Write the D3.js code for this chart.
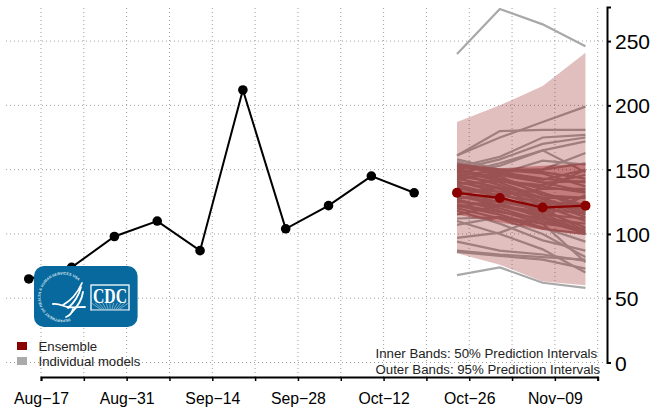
<!DOCTYPE html>
<html><head><meta charset="utf-8">
<script src="https://cdn.jsdelivr.net/npm/d3@7"></script>
<style>
html,body{margin:0;padding:0;background:#fff}
svg{display:block}
text{font-family:"Liberation Sans",Arial,sans-serif}
</style></head><body>
<svg id="c" width="663" height="414"></svg>
<script>
const tickDates = ["2020-08-17","2020-08-24","2020-08-31","2020-09-07","2020-09-14","2020-09-21","2020-09-28","2020-10-05","2020-10-12","2020-10-19","2020-10-26","2020-11-02","2020-11-09","2020-11-16"];
const tickLabels = ["Aug\u221217","","Aug\u221231","","Sep\u221214","","Sep\u221228","","Oct\u221212","","Oct\u221226","","Nov\u221209",""];
const yTicks = [0,50,100,150,200,250];
const obsDates = ["2020-08-15","2020-08-22","2020-08-29","2020-09-05","2020-09-12","2020-09-19","2020-09-26","2020-10-03","2020-10-10","2020-10-17"];
const obsValues = [65,74,98,110,87,212,104,122,145,132];
const fcDates = ["2020-10-24","2020-10-31","2020-11-07","2020-11-14"];
const ensemble = [132,128,120.5,122];
const outerHi = [187,200,215,241];
const outerLo = [85,76,63,60];
const innerHi = [155,151,153,155];
const innerLo = [115,109,103,99];
const models = [
 [240,275,263,246],[68,74,62,58],
 [161,175,187,199],[161,180,181,181],[152,160,175,177],[150,158,170,175],
 [148,153,165,172],[147,155,165,148],[155,147,157,154],[145,150,150,163],
 [158,150,148,143],[156,148,150,155],[152,150,147,137],[150,143,135,150],
 [148,145,130,128],[145,140,128,117],[142,148,140,141],[140,135,122,110],
 [138,130,125,123],[135,133,128,128],[132,127,118,105],[130,122,114,100],
 [128,130,135,135],[126,120,110,101],[122,115,105,94],[120,112,100,82],
 [118,108,95,87],[115,122,115,112],[112,113,104,100],[110,100,88,70],
 [107,113,108,78],[97,101,113,130],[94,87,84,79],[87,84,82,80],[86,83,80,73],
 [154,146,140,133],[153,148,143,140],[151,142,132,119],[149,141,138,146],
 [147,138,127,115],[144,146,142,150],[143,136,125,113],[141,132,120,102],
 [139,141,137,132],[136,129,116,101],[134,124,112,100],[131,136,132,122],
 [129,125,119,116],[127,118,108,104],[125,122,117,130],[123,117,112,108],
 [121,126,122,120]
];
const axisCol = "#000";
const parse = d3.utcParse("%Y-%m-%d");
const svg = d3.select("#c");
const x = d3.scaleUtc().domain([parse(tickDates[0]),parse(tickDates[13])]).range([41,597.7]);
const y = d3.scaleLinear().domain([0,276.5]).range([362.5,7]);

// grid
const grid = svg.append("g").attr("stroke","#a0a0a0").attr("stroke-width",1).attr("stroke-dasharray","1 3");
grid.selectAll("line.v").data(tickDates).join("line").attr("class","v")
  .attr("x1",d=>x(parse(d))).attr("x2",d=>x(parse(d))).attr("y1",8).attr("y2",377);
grid.selectAll("line.h").data(yTicks).join("line").attr("class","h")
  .attr("x1",6).attr("x2",605).attr("y1",d=>y(d)).attr("y2",d=>y(d));

const fx = fcDates.map(parse);
const line = d3.line().x((d,i)=>x(fx[i])).y(d=>y(d));
// individual models
svg.append("g").selectAll("path").data(models).join("path")
  .attr("d",line).attr("fill","none").attr("stroke","#a8a8a8").attr("stroke-width",2.2);
// bands
const band=(hi,lo,op)=>svg.append("path")
  .attr("d",d3.area().x((d,i)=>x(fx[i])).y0((d,i)=>y(lo[i])).y1(d=>y(d))(hi))
  .attr("fill","#8b0000").attr("fill-opacity",op);
band(outerHi,outerLo,0.25);
band(innerHi,innerLo,0.35);
// ensemble
svg.append("path").attr("d",line(ensemble)).attr("fill","none").attr("stroke","#8b0000").attr("stroke-width",2.2);
svg.append("g").selectAll("circle").data(ensemble).join("circle")
  .attr("cx",(d,i)=>x(fx[i])).attr("cy",d=>y(d)).attr("r",5).attr("fill","#8b0000");
// observed
const ox = obsDates.map(parse);
svg.append("path").attr("d",d3.line().x((d,i)=>x(ox[i])).y(d=>y(d))(obsValues))
  .attr("fill","none").attr("stroke","#000").attr("stroke-width",2);
svg.append("g").selectAll("circle").data(obsValues).join("circle")
  .attr("cx",(d,i)=>x(ox[i])).attr("cy",d=>y(d)).attr("r",4.8).attr("fill","#000");

// axes
const gx = svg.append("g").attr("transform","translate(0,377)")
  .call(d3.axisBottom(x).tickValues(tickDates.map(parse)).tickSize(4).tickPadding(0)
    .tickFormat((d,i)=>tickLabels[i]));
gx.select(".domain").attr("stroke",axisCol).attr("stroke-width",2);
gx.selectAll(".tick line").attr("stroke",axisCol).attr("stroke-width",1.5);
gx.selectAll(".tick text").attr("y",27).attr("dy",0).attr("font-size",15.8).attr("fill","#000")
  .style("font-family",'"Liberation Sans"');
const gy = svg.append("g").attr("transform","translate(607,0)")
  .call(d3.axisRight(y).tickValues(yTicks).tickSize(4).tickPadding(4));
gy.select(".domain").attr("stroke",axisCol).attr("stroke-width",2);
gy.selectAll(".tick line").attr("stroke",axisCol).attr("stroke-width",2);
gy.selectAll(".tick text").attr("x",8).attr("dy","0.36em").attr("font-size",21).attr("fill","#000")
  .style("font-family",'"Liberation Sans"');

// legend
const legCats = ["Ensemble","Individual models"];
const legCols = ["#8b0000","#aaaaaa"];
const leg = svg.append("g");
leg.selectAll("rect").data(legCats).join("rect").attr("x",17).attr("y",(d,i)=>342+i*15).attr("width",10).attr("height",8).attr("fill",(d,i)=>legCols[i]);
leg.selectAll("text").data(legCats).join("text").attr("x",38.5).attr("y",(d,i)=>351+i*15).attr("font-size",13.2).attr("fill","#222").text(d=>d);
const notes = ["Inner Bands: 50% Prediction Intervals","Outer Bands: 95% Prediction Intervals"];
svg.append("g").selectAll("text").data(notes).join("text").attr("x",375.5).attr("y",(d,i)=>358+i*16).attr("font-size",13.25).attr("fill","#222").text(d=>d);

// CDC logo
const logo = svg.append("g");
logo.append("rect").attr("x",34).attr("y",266).attr("width",103.6).attr("height",61).attr("rx",10).attr("fill","#07699d");
logo.append("path").attr("id","ring2").attr("fill","none").attr("d","M 70 318.5 A 22.5 22.5 0 1 1 82 285");
logo.append("text").attr("font-size",3.7).attr("font-weight","bold").attr("fill","#d7e6f0")
  .append("textPath").attr("href","#ring2").text("DEPARTMENT OF HEALTH & HUMAN SERVICES USA");
const eagle = [
 "M 82 283 C 78 292 72 300 63 305",
 "M 81 287 C 79 295 75 302 68 308",
 "M 83 292 C 82 299 78 306 72 312",
 "M 53 304 C 58 303 63 306 67 307 C 72 308 79 307 85 307",
 "M 66 317 C 69 316 72 313 73 309"
];
logo.selectAll("path.e").data(eagle).join("path").attr("class","e").attr("d",d=>d)
  .attr("fill","none").attr("stroke","#fff").attr("stroke-width",1.8).attr("stroke-linecap","round");
logo.append("rect").attr("x",91).attr("y",285).attr("width",38).attr("height",25).attr("fill","none").attr("stroke","#dfeaf2").attr("stroke-width",1);
const rays = d3.range(0,11);
logo.selectAll("line.r").data(rays).join("line").attr("class","r")
  .attr("x1",110).attr("y1",316).attr("x2",d=>91.5+d*3.7).attr("y2",303)
  .attr("stroke","#bcd6e6").attr("stroke-width",.6);
logo.append("rect").attr("x",91.5).attr("y",309.5).attr("width",37).attr("height",8).attr("fill","#07699d");
logo.append("rect").attr("x",91).attr("y",285).attr("width",38).attr("height",25).attr("fill","none").attr("stroke","#dfeaf2").attr("stroke-width",1);
logo.append("text").attr("x",110).attr("y",303).attr("text-anchor","middle").attr("font-size",20.5).attr("font-weight","bold").attr("fill","#fff")
  .attr("textLength",34).attr("lengthAdjust","spacingAndGlyphs").style("font-family",'"Liberation Serif"').text("CDC");
</script>
</body></html>
